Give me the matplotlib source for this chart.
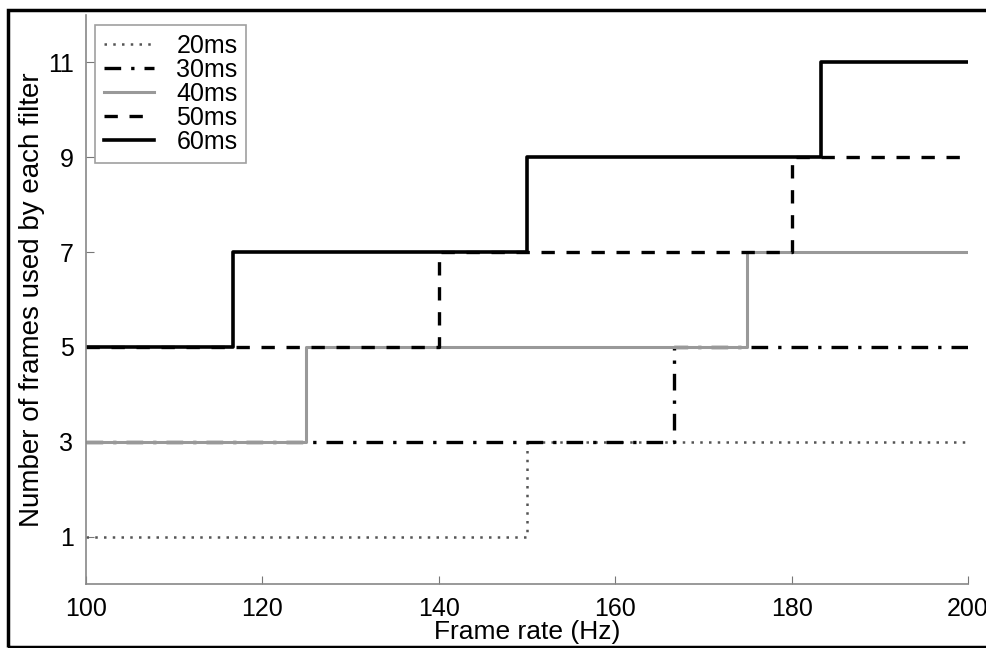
import matplotlib
matplotlib.use("Agg")
import matplotlib.pyplot as plt
from matplotlib.patches import Rectangle

# step breakpoints (frame rate, Hz) and number of frames for each filter length
x20 = [100, 150, 200]
y20 = [1, 3, 3]
x30 = [100, 166.7, 200]
y30 = [3, 5, 5]
x40 = [100, 125, 175, 200]
y40 = [3, 5, 7, 7]
x50 = [100, 140, 180, 200]
y50 = [5, 7, 9, 9]
x60 = [100, 116.7, 150, 183.3, 200]
y60 = [5, 7, 9, 11, 11]
labels = ['20ms', '30ms', '40ms', '50ms', '60ms']
xticks = [100, 120, 140, 160, 180, 200]
yticks = [1, 3, 5, 7, 9, 11]

plt.rcParams['font.family'] = ['Liberation Sans', 'DejaVu Sans']

fig = plt.figure(figsize=(9.86, 6.48), dpi=100)
ax = fig.add_axes([86 / 986, 1 - 584 / 648, (968 - 86) / 986, (584 - 15) / 648])

ax.step(x20, y20, where='post', color='#555555', linestyle=(0, (1, 2.5)), linewidth=1.8, label=labels[0])
ax.step(x30, y30, where='post', color='black', linestyle=(0, (5, 3, 1, 3)), linewidth=2.4, label=labels[1])
ax.step(x40, y40, where='post', color='#999999', linestyle='-', linewidth=2.2, label=labels[2])
ax.step(x50, y50, where='post', color='black', linestyle=(0, (4, 3.5)), linewidth=2.4, label=labels[3])
ax.step(x60, y60, where='post', color='black', linestyle='-', linewidth=2.6, label=labels[4])

ax.set_xlim(100, 200)
ax.set_ylim(0, 12)
ax.set_xticks(xticks)
ax.set_yticks(yticks)
ax.tick_params(direction='in', length=6, color='#777777', labelsize=18, pad=9)
for side in ['top', 'right']:
    ax.spines[side].set_visible(False)
for side in ['left', 'bottom']:
    ax.spines[side].set_color('#888888')
    ax.spines[side].set_linewidth(1.2)

ax.set_xlabel('Frame rate (Hz)', fontsize=19, labelpad=0)
ax.set_ylabel('Number of frames used by each filter', fontsize=20)
ax.yaxis.set_label_coords((45 - 86) / 882, 0.5)

leg = ax.legend(loc='upper left', fontsize=18, frameon=True, fancybox=False,
                handlelength=2.0, handletextpad=0.9, borderaxespad=0.0,
                labelspacing=0.0, borderpad=0.35,
                bbox_to_anchor=(9 / 882, (584 - 25) / 569))
leg.get_frame().set_edgecolor('#888888')
leg.get_frame().set_linewidth(1.2)

# outer border of the figure
fig.patches.append(Rectangle((8 / 986, 1 / 648), 1.1, 637 / 648, transform=fig.transFigure,
                             fill=False, edgecolor='black', linewidth=2.5, zorder=10))

fig.savefig('out.png', dpi=100)
